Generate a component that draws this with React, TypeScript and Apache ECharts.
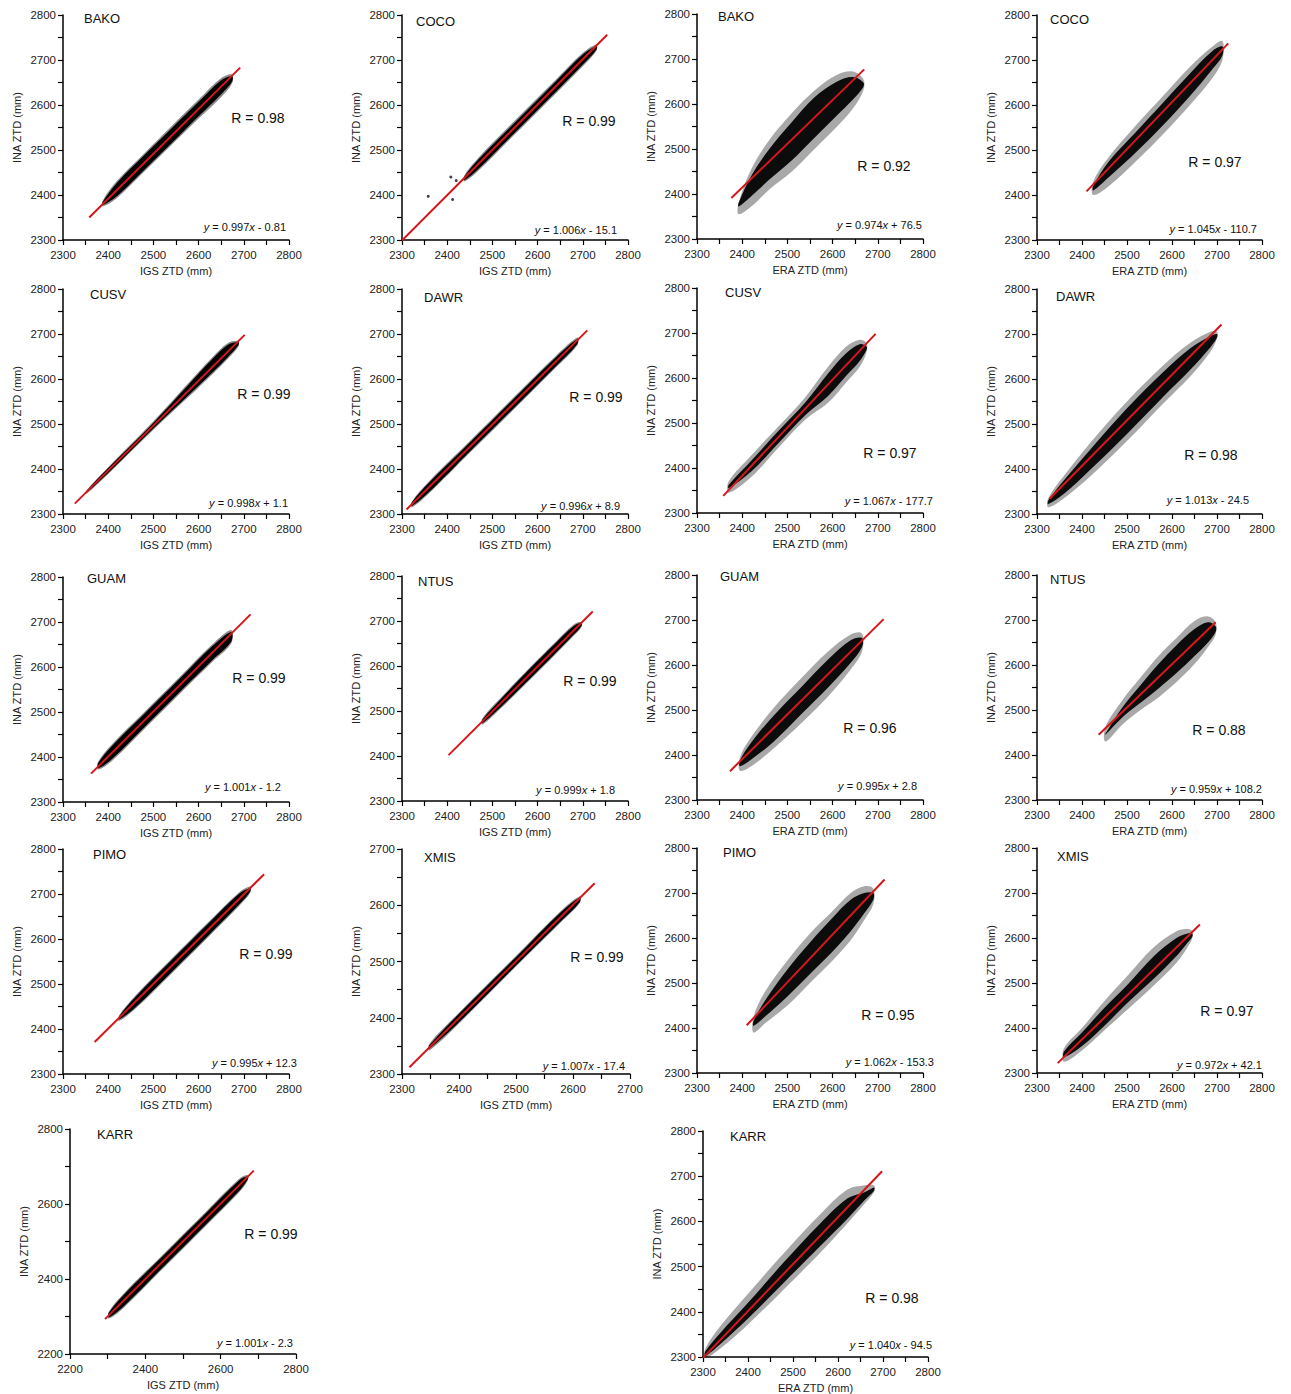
import React, { useEffect, useRef } from "react";
import * as echarts from "echarts";

// ---------- data ----------
const STATIONS = ["BAKO", "COCO", "BAKO", "COCO", "CUSV", "DAWR", "CUSV", "DAWR", "GUAM", "NTUS", "GUAM", "NTUS", "PIMO", "XMIS", "PIMO", "XMIS", "KARR", "KARR"];
const SOURCES = ["IGS", "IGS", "ERA", "ERA", "IGS", "IGS", "ERA", "ERA", "IGS", "IGS", "ERA", "ERA", "IGS", "IGS", "ERA", "ERA", "IGS", "ERA"];
const R_VALUES = ["0.98", "0.99", "0.92", "0.97", "0.99", "0.99", "0.97", "0.98", "0.99", "0.99", "0.96", "0.88", "0.99", "0.99", "0.95", "0.97", "0.99", "0.98"];
const SLOPES = ["0.997", "1.006", "0.974", "1.045", "0.998", "0.996", "1.067", "1.013", "1.001", "0.999", "0.995", "0.959", "0.995", "1.007", "1.062", "0.972", "1.001", "1.040"];
const INTERCEPTS = ["- 0.81", "- 15.1", "+ 76.5", "- 110.7", "+ 1.1", "+ 8.9", "- 177.7", "- 24.5", "- 1.2", "+ 1.8", "+ 2.8", "+ 108.2", "+ 12.3", "- 17.4", "- 153.3", "+ 42.1", "- 2.3", "- 94.5"];
const AXIS_MIN = [2300, 2300, 2300, 2300, 2300, 2300, 2300, 2300, 2300, 2300, 2300, 2300, 2300, 2300, 2300, 2300, 2200, 2300];
const AXIS_MAX = [2800, 2800, 2800, 2800, 2800, 2800, 2800, 2800, 2800, 2800, 2800, 2800, 2800, 2700, 2800, 2800, 2800, 2800];
const AXIS_STEP = [100, 100, 100, 100, 100, 100, 100, 100, 100, 100, 100, 100, 100, 100, 100, 100, 200, 100];

// regression line end points [x, y]
const FIT_LINES = [
  [[2358, 2350], [2692, 2683]],
  [[2300, 2299], [2754, 2756]],
  [[2376, 2391], [2670, 2677]],
  [[2410, 2408], [2725, 2737]],
  [[2326, 2323], [2702, 2698]],
  [[2310, 2310], [2710, 2708]],
  [[2358, 2338], [2695, 2698]],
  [[2328, 2334], [2710, 2721]],
  [[2362, 2363], [2715, 2717]],
  [[2403, 2402], [2722, 2721]],
  [[2373, 2364], [2713, 2702]],
  [[2437, 2445], [2697, 2695]],
  [[2370, 2371], [2745, 2744]],
  [[2313, 2312], [2638, 2639]],
  [[2410, 2406], [2715, 2730]],
  [[2346, 2322], [2662, 2630]],
  [[2293, 2293], [2688, 2689]],
  [[2300, 2298], [2698, 2711]],
];

// point-cloud envelopes: [x, sparseLow, sparseHigh, denseLow, denseHigh]
const bakoIgs = [[2388, 2375, 2388, 2378, 2385], [2420, 2394, 2432, 2398, 2428], [2480, 2452, 2493, 2456, 2489], [2540, 2511, 2553, 2515, 2548], [2600, 2570, 2612, 2575, 2607], [2650, 2618, 2660, 2624, 2655], [2674, 2648, 2668, 2652, 2664]];
const cocoIgs = [[2438, 2430, 2444, 2433, 2441], [2470, 2455, 2484, 2459, 2480], [2550, 2535, 2566, 2539, 2561], [2640, 2625, 2656, 2629, 2652], [2700, 2686, 2716, 2690, 2712], [2730, 2720, 2734, 2723, 2731]];
const bakoEra = [[2392, 2355, 2380, 2372, 2380], [2420, 2372, 2455, 2395, 2440], [2460, 2410, 2520, 2432, 2500], [2510, 2450, 2580, 2475, 2560], [2560, 2500, 2630, 2525, 2615], [2610, 2550, 2665, 2575, 2650], [2645, 2590, 2672, 2610, 2660], [2668, 2630, 2655, 2638, 2648]];
const cocoEra = [[2425, 2400, 2430, 2410, 2420], [2460, 2420, 2485, 2440, 2475], [2520, 2475, 2555, 2495, 2540], [2580, 2535, 2620, 2555, 2605], [2640, 2600, 2685, 2620, 2670], [2690, 2660, 2730, 2680, 2720], [2712, 2700, 2742, 2710, 2730]];
const cusvIgs = [[2352, 2345, 2352, 2347, 2351], [2400, 2389, 2404, 2391, 2402], [2500, 2487, 2506, 2490, 2503], [2580, 2562, 2594, 2566, 2590], [2630, 2610, 2648, 2614, 2644], [2665, 2645, 2680, 2649, 2676], [2688, 2672, 2684, 2675, 2682]];
const dawrIgs = [[2322, 2315, 2328, 2318, 2326], [2360, 2346, 2373, 2349, 2370], [2450, 2436, 2462, 2439, 2459], [2550, 2535, 2562, 2538, 2559], [2640, 2625, 2651, 2628, 2648], [2688, 2675, 2692, 2678, 2689]];
const cusvEra = [[2370, 2345, 2370, 2355, 2362], [2420, 2380, 2428, 2392, 2416], [2480, 2445, 2492, 2455, 2482], [2540, 2508, 2558, 2518, 2546], [2590, 2545, 2625, 2560, 2610], [2630, 2590, 2670, 2605, 2655], [2660, 2625, 2685, 2638, 2675], [2675, 2658, 2678, 2662, 2670]];
const dawrEra = [[2325, 2315, 2335, 2322, 2330], [2360, 2335, 2385, 2345, 2375], [2420, 2385, 2460, 2400, 2445], [2500, 2462, 2550, 2478, 2535], [2580, 2545, 2630, 2560, 2615], [2640, 2605, 2680, 2620, 2668], [2685, 2660, 2705, 2670, 2695], [2700, 2690, 2705, 2692, 2700]];
const guamIgs = [[2378, 2372, 2390, 2375, 2387], [2410, 2393, 2430, 2397, 2426], [2480, 2462, 2500, 2466, 2496], [2560, 2542, 2580, 2546, 2576], [2630, 2611, 2650, 2615, 2646], [2672, 2652, 2682, 2656, 2678]];
const ntusIgs = [[2478, 2470, 2484, 2473, 2481], [2520, 2507, 2531, 2510, 2528], [2580, 2566, 2594, 2569, 2591], [2640, 2626, 2654, 2629, 2651], [2680, 2667, 2692, 2670, 2689], [2697, 2686, 2698, 2689, 2696]];
const guamEra = [[2395, 2365, 2395, 2375, 2388], [2420, 2375, 2440, 2390, 2428], [2470, 2415, 2505, 2430, 2488], [2530, 2470, 2570, 2490, 2550], [2590, 2530, 2630, 2550, 2612], [2640, 2590, 2668, 2605, 2655], [2665, 2630, 2670, 2640, 2660]];
const ntusEra = [[2452, 2430, 2462, 2445, 2447], [2490, 2468, 2522, 2484, 2506], [2530, 2500, 2572, 2516, 2555], [2570, 2528, 2620, 2548, 2602], [2610, 2562, 2660, 2582, 2644], [2650, 2602, 2698, 2620, 2680], [2680, 2640, 2708, 2650, 2695], [2697, 2668, 2695, 2674, 2686]];
const pimoIgs = [[2424, 2418, 2430, 2421, 2428], [2460, 2445, 2474, 2448, 2471], [2540, 2523, 2556, 2526, 2553], [2620, 2603, 2636, 2606, 2633], [2690, 2674, 2704, 2677, 2701], [2714, 2702, 2716, 2705, 2713]];
const xmisIgs = [[2348, 2342, 2354, 2345, 2351], [2400, 2390, 2409, 2392, 2407], [2500, 2491, 2510, 2493, 2508], [2580, 2571, 2591, 2573, 2589], [2612, 2604, 2616, 2606, 2614]];
const pimoEra = [[2425, 2390, 2425, 2405, 2415], [2450, 2410, 2480, 2425, 2460], [2500, 2450, 2550, 2470, 2530], [2550, 2500, 2610, 2520, 2590], [2600, 2550, 2660, 2570, 2645], [2640, 2595, 2700, 2615, 2685], [2670, 2640, 2715, 2655, 2700], [2690, 2675, 2710, 2685, 2700]];
const xmisEra = [[2360, 2325, 2355, 2335, 2348], [2400, 2350, 2400, 2360, 2390], [2450, 2395, 2460, 2405, 2445], [2500, 2440, 2515, 2455, 2495], [2560, 2495, 2580, 2510, 2560], [2610, 2545, 2615, 2560, 2600], [2635, 2580, 2620, 2590, 2610], [2645, 2600, 2615, 2603, 2610]];
const karrIgs = [[2303, 2295, 2313, 2298, 2310], [2340, 2321, 2359, 2325, 2355], [2450, 2431, 2469, 2435, 2465], [2560, 2541, 2579, 2545, 2575], [2650, 2632, 2668, 2636, 2664], [2672, 2663, 2677, 2666, 2674]];
const karrEra = [[2305, 2298, 2318, 2302, 2312], [2340, 2320, 2370, 2330, 2355], [2400, 2372, 2440, 2385, 2420], [2480, 2450, 2530, 2465, 2510], [2560, 2530, 2615, 2545, 2595], [2620, 2595, 2670, 2605, 2650], [2660, 2640, 2680, 2648, 2665], [2680, 2665, 2680, 2668, 2675]];
const CLOUDS = [bakoIgs, cocoIgs, bakoEra, cocoEra, cusvIgs, dawrIgs, cusvEra, dawrEra, guamIgs, ntusIgs, guamEra, ntusEra, pimoIgs, xmisIgs, pimoEra, xmisEra, karrIgs, karrEra];

// isolated outliers (COCO, IGS)
const COCO_IGS_OUTLIERS = [[2358, 2397], [2408, 2440], [2420, 2432], [2412, 2390]];

// ---------- layout ----------
// grid: left, top, width, height
const GRIDS = [
  [63, 15, 226, 225], [402, 15, 226, 225], [697, 14, 226, 225], [1037, 15, 225, 225],
  [63, 289, 226, 225], [402, 289, 226, 225], [697, 288, 226, 225], [1037, 289, 225, 225],
  [63, 577, 226, 225], [402, 576, 226, 225], [697, 575, 226, 225], [1037, 575, 225, 225],
  [63, 849, 226, 225], [402, 849, 228, 225], [697, 848, 226, 225], [1037, 848, 225, 225],
  [70, 1129, 226, 225], [703, 1131, 225, 226],
];
// nameX(left), nameY, rX(center), rY, eqX(right), eqY
const TEXT_POS = [
  [84, 18, 258, 118, 286, 227], [416, 21, 589, 121, 617, 230], [718, 16, 884, 166, 922, 225], [1050, 19, 1215, 162, 1257, 229],
  [90, 294, 264, 394, 288, 503], [424, 297, 596, 397, 620, 506], [725, 292, 890, 453, 933, 501], [1056, 296, 1211, 455, 1249, 500],
  [87, 578, 259, 678, 281, 787], [418, 581, 590, 681, 615, 790], [720, 576, 870, 728, 917, 786], [1050, 579, 1219, 730, 1262, 789],
  [93, 854, 266, 954, 297, 1063], [424, 857, 597, 957, 625, 1066], [723, 852, 888, 1015, 934, 1062], [1057, 856, 1227, 1011, 1262, 1065],
  [97, 1134, 271, 1234, 293, 1343], [730, 1136, 892, 1298, 932, 1345],
];

const FONT = "'Liberation Sans', Arial, Helvetica, sans-serif";
const TEXT_COLOR = "#222";
const LINE_RED = "#d4171c";

function buildOption() {
  const n = STATIONS.length;
  const grid = GRIDS.map((g) => ({ left: g[0], top: g[1], width: g[2], height: g[3], containLabel: false }));

  const axisCommon = (i: number) => ({
    gridIndex: i,
    type: "value" as const,
    min: AXIS_MIN[i],
    max: AXIS_MAX[i],
    interval: AXIS_STEP[i],
    nameLocation: "middle" as const,
    nameTextStyle: { fontSize: 11, color: TEXT_COLOR, fontFamily: FONT },
    axisLine: { show: true, onZero: false, lineStyle: { color: "#000", width: 1.5 } },
    axisTick: { show: true, inside: false, length: 5, lineStyle: { color: "#000", width: 1.2 } },
    minorTick: { show: true, splitNumber: 2, length: 5, lineStyle: { color: "#000", width: 1.2 } },
    splitLine: { show: false },
    minorSplitLine: { show: false },
    axisLabel: {
      fontSize: 11.5,
      color: TEXT_COLOR,
      fontFamily: FONT,
      showMinLabel: true,
      showMaxLabel: true,
      formatter: (v: number) => String(v),
    },
  });

  const xAxis = STATIONS.map((_, i) => {
    const c = axisCommon(i);
    return { ...c, name: `${SOURCES[i]} ZTD (mm)`, nameGap: 25, axisLabel: { ...c.axisLabel, margin: 9 } };
  });
  const yAxis = STATIONS.map((_, i) => {
    const c = axisCommon(i);
    return { ...c, name: "INA ZTD (mm)", nameGap: 41, axisLabel: { ...c.axisLabel, margin: 7 } };
  });

  const series: any[] = [];
  for (let i = 0; i < n; i++) {
    const rows = CLOUDS[i];
    const isIgs = SOURCES[i] === "IGS";
    series.push({
      type: "custom",
      xAxisIndex: i,
      yAxisIndex: i,
      silent: true,
      z: 2,
      data: rows.map((r) => [r[0], r[1]]),
      renderItem: (params: any, api: any) => {
        if (params.dataIndex !== 0) return null;
        const outer = [
          ...rows.map((r) => api.coord([r[0], r[2]])),
          ...rows.slice().reverse().map((r) => api.coord([r[0], r[1]])),
        ];
        const inner = [
          ...rows.map((r) => api.coord([r[0], r[4]])),
          ...rows.slice().reverse().map((r) => api.coord([r[0], r[3]])),
        ];
        return {
          type: "group",
          children: [
            { type: "polygon", shape: { points: outer, smooth: 0.35 }, style: { fill: isIgs ? "rgba(0,0,0,0.45)" : "rgba(0,0,0,0.34)" } },
            { type: "polygon", shape: { points: inner, smooth: 0.35 }, style: { fill: isIgs ? "#000" : "#0c0c0c" } },
          ],
        };
      },
    });
    series.push({
      type: "line",
      xAxisIndex: i,
      yAxisIndex: i,
      data: FIT_LINES[i],
      symbol: "none",
      silent: true,
      z: 5,
      lineStyle: { color: LINE_RED, width: 2 },
    });
  }
  series.push({
    type: "scatter",
    xAxisIndex: 1,
    yAxisIndex: 1,
    data: COCO_IGS_OUTLIERS,
    symbolSize: 3,
    silent: true,
    z: 4,
    itemStyle: { color: "#111" },
  });

  const graphic: any[] = [];
  for (let i = 0; i < n; i++) {
    const t = TEXT_POS[i];
    graphic.push({
      type: "text",
      x: t[0],
      y: t[1],
      silent: true,
      style: { text: STATIONS[i], fontSize: 13, fontFamily: FONT, fill: "#111", align: "left", verticalAlign: "middle" },
    });
    graphic.push({
      type: "text",
      x: t[2],
      y: t[3],
      silent: true,
      style: { text: `R = ${R_VALUES[i]}`, fontSize: 14, fontFamily: FONT, fill: "#111", align: "center", verticalAlign: "middle" },
    });
    graphic.push({
      type: "text",
      x: t[4],
      y: t[5],
      silent: true,
      style: {
        text: `{i|y} = ${SLOPES[i]}{i|x} ${INTERCEPTS[i]}`,
        fontSize: 11,
        fontFamily: FONT,
        fill: "#111",
        align: "right",
        verticalAlign: "middle",
        rich: { i: { fontStyle: "italic", fontSize: 11, fontFamily: FONT, fill: "#111" } },
      },
    });
  }

  return {
    animation: false,
    backgroundColor: "#fff",
    grid,
    xAxis,
    yAxis,
    series,
    graphic,
  };
}

export default function App() {
  const ref = useRef<HTMLDivElement>(null);
  useEffect(() => {
    document.body.style.margin = "0";
    if (!ref.current) return;
    const chart = echarts.init(ref.current, undefined, { renderer: "svg" });
    chart.setOption(buildOption() as any);
    return () => chart.dispose();
  }, []);
  return <div ref={ref} style={{ position: "absolute", left: 0, top: 0, width: 1291, height: 1394 }} />;
}
